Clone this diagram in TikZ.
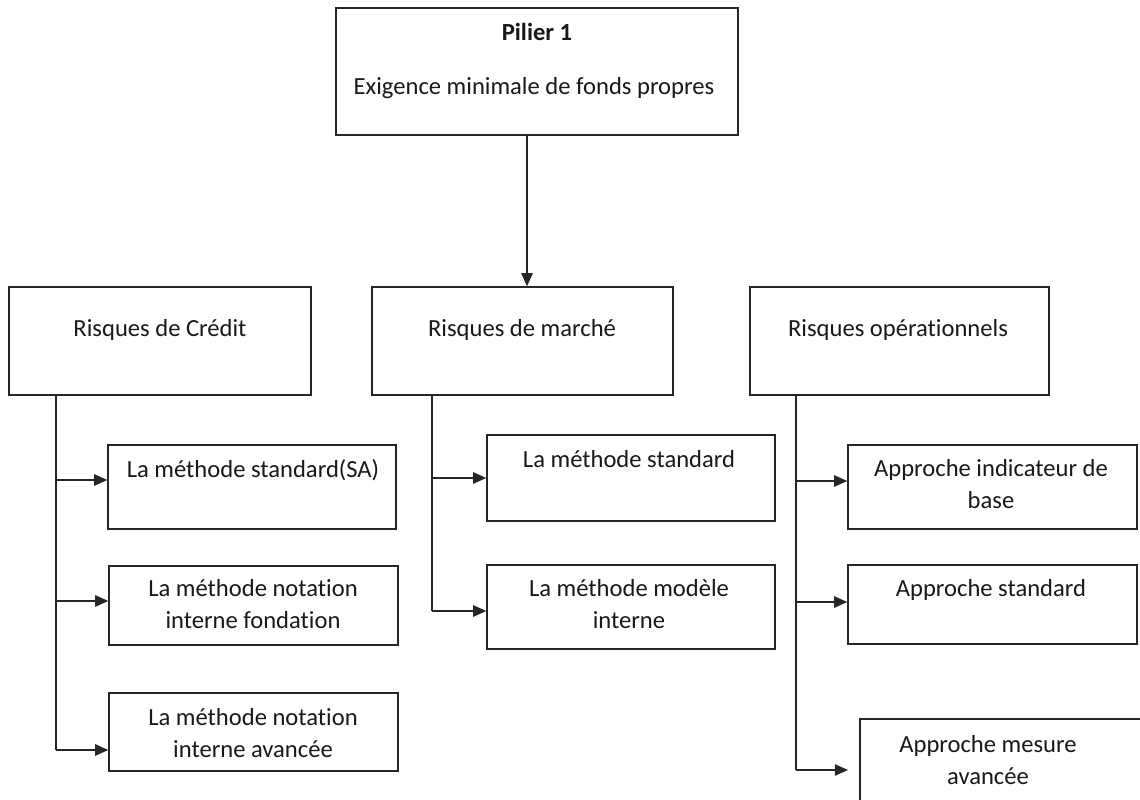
\documentclass[tikz,border=0pt]{standalone}
\usepackage{fontspec}
\setmainfont[Ligatures=NoCommon]{Carlito}
\usetikzlibrary{arrows.meta,fit}
\begin{document}
\begin{tikzpicture}[x=0.02cm,y=-0.02cm,
  box/.style={draw=black!85, line width=0.8pt, rectangle, inner sep=0pt},
  txt/.style={font=\fontsize{14}{18}\selectfont, align=center, inner sep=0pt, text=black!90},
  conn/.style={draw=black!85, line width=0.8pt},
  arr/.style={conn, -{Triangle[length=7.5pt,width=6.5pt]}}]
\useasboundingbox[fill=white] (0,0) rectangle (1140,800);

% boxes
\node[box, fit={(336,8) (738,135)}] (top) {};
\node[box, fit={(9,287) (311,395)}] (credit) {};
\node[box, fit={(372,287) (673,395)}] (marche) {};
\node[box, fit={(750,287) (1049,395)}] (oper) {};
\node[box, fit={(108,445) (396,529)}] (sa) {};
\node[box, fit={(109,566) (398,645)}] (fond) {};
\node[box, fit={(109,693) (398,771)}] (avan) {};
\node[box, fit={(487,435) (775,521)}] (mstd) {};
\node[box, fit={(487,565) (775,649)}] (mint) {};
\node[box, fit={(848,445) (1137,529)}] (base) {};
\node[box, fit={(848,565) (1137,644)}] (ostd) {};
\node[box, fit={(860,719) (1160,820)}] (mesure) {};

% texts
\node[txt] (t1) at (537,32) {\textbf{Pilier 1}};
\node[txt] (t2) at (534,88) {Exigence minimale de fonds propres};
\node[txt] (t3) at (160,330) {Risques de Crédit};
\node[txt] (t4) at (522,330) {Risques de marché};
\node[txt] (t5) at (898,330) {Risques opérationnels};
\node[txt] (t6) at (253,470) {La méthode standard(SA)};
\node[txt] (t7) at (253,604) {La méthode notation\\interne fondation};
\node[txt] (t8) at (253,733) {La méthode notation\\interne avancée};
\node[txt] (t9) at (629,459) {La méthode standard};
\node[txt] (t10) at (629,604) {La méthode modèle\\interne};
\node[txt] (t11) at (991,484) {Approche indicateur de\\base};
\node[txt] (t12) at (991,590) {Approche standard};
\node[txt] (t13) at (988,760) {Approche mesure\\avancée};

% main arrow
\coordinate (a0) at (527,135);
\draw[arr] (a0) -- (a0 |- marche.north);

% credit branch
\coordinate (c0) at (56,395);
\coordinate (c1) at (56,480);
\coordinate (c2) at (56,601);
\coordinate (c3) at (56,750);
\draw[conn] (c0) -- (c3);
\draw[arr] (c1) -- (c1 -| sa.west);
\draw[arr] (c2) -- (c2 -| fond.west);
\draw[arr] (c3) -- (c3 -| avan.west);

% market branch
\coordinate (m0) at (432,395);
\coordinate (m1) at (432,478);
\coordinate (m2) at (432,611);
\draw[conn] (m0) -- (m2);
\draw[arr] (m1) -- (m1 -| mstd.west);
\draw[arr] (m2) -- (m2 -| mint.west);

% operational branch
\coordinate (o0) at (796,395);
\coordinate (o1) at (796,481);
\coordinate (o2) at (796,602);
\coordinate (o3) at (796,770);
\coordinate (o3e) at (848,770);
\draw[conn] (o0) -- (o3);
\draw[arr] (o1) -- (o1 -| base.west);
\draw[arr] (o2) -- (o2 -| ostd.west);
\draw[arr] (o3) -- (o3e);
\end{tikzpicture}
\end{document}
